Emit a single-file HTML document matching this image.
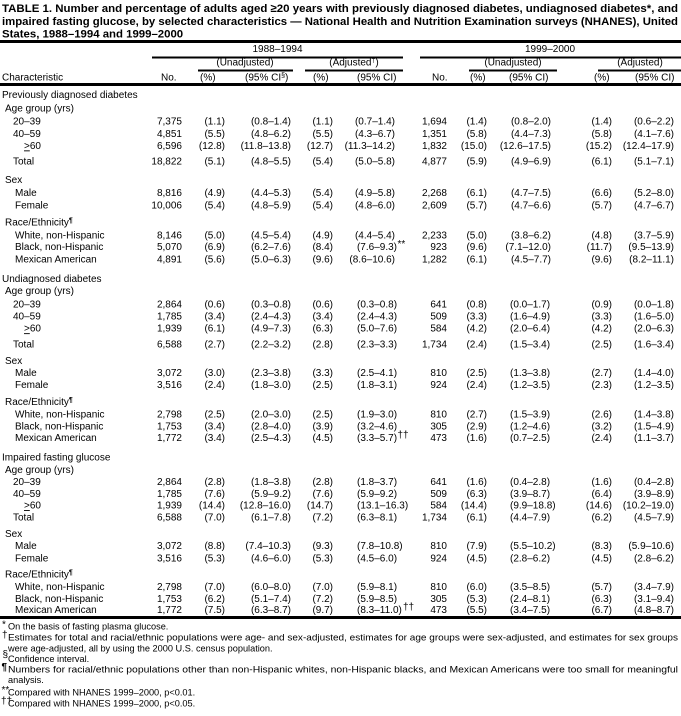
<!DOCTYPE html>
<html><head><meta charset="utf-8">
<style>
html,body{margin:0;padding:0;background:#fff;}
svg{display:block}
text{font-family:"Liberation Sans",Arial,sans-serif;font-size:10px;fill:#000}
.r{text-anchor:end}
.m{text-anchor:middle}
.t{font-size:11.4px;font-weight:bold}
.f{font-size:9.2px}
</style></head><body>
<svg width="681" height="716" viewBox="0 0 681 716">
<rect width="681" height="716" fill="#fff"/>
<!-- title -->
<text class="t" x="2" y="12" textLength="676" lengthAdjust="spacingAndGlyphs">TABLE 1. Number and percentage of adults aged ≥20 years with previously diagnosed diabetes, undiagnosed diabetes*, and</text>
<text class="t" x="2" y="25" textLength="676" lengthAdjust="spacingAndGlyphs">impaired fasting glucose, by selected characteristics — National Health and Nutrition Examination surveys (NHANES), United</text>
<text class="t" x="2" y="37.5">States, 1988–1994 and 1999–2000</text>
<!-- rules -->
<rect x="0" y="40" width="681" height="3" fill="#000"/>
<rect x="152" y="56.5" width="251" height="2" fill="#000"/>
<rect x="420" y="56.5" width="261" height="2" fill="#000"/>
<rect x="198" y="69.5" width="95" height="2" fill="#000"/>
<rect x="305" y="69.5" width="98" height="2" fill="#000"/>
<rect x="469" y="69.5" width="88" height="2" fill="#000"/>
<rect x="598" y="69.5" width="83" height="2" fill="#000"/>
<rect x="0" y="83" width="681" height="3" fill="#000"/>
<rect x="0" y="616" width="681" height="3" fill="#000"/>
<!-- headers -->
<text class="m" x="277.5" y="52">1988–1994</text>
<text class="m" x="550" y="52">1999–2000</text>
<text class="m" x="245" y="65.6">(Unadjusted)</text>
<text class="m" x="354" y="65.6">(Adjusted<tspan font-size="7" dy="-3">†</tspan><tspan dy="3">)</tspan></text>
<text class="m" x="513" y="65.6">(Unadjusted)</text>
<text class="m" x="640" y="65.6">(Adjusted)</text>
<g transform="translate(0,80.3)">
<text x="2">Characteristic</text>
<text x="161">No.</text>
<text x="200">(%)</text>
<text x="245">(95% CI<tspan font-size="7" dy="-3">§</tspan><tspan dy="3">)</tspan></text>
<text x="313">(%)</text>
<text x="357">(95% CI)</text>
<text x="432">No.</text>
<text x="470">(%)</text>
<text x="509">(95% CI)</text>
<text x="594">(%)</text>
<text x="635">(95% CI)</text>
</g>

<!-- Section 1 -->
<text x="2" y="98">Previously diagnosed diabetes</text>
<text x="5" y="111.4">Age group (yrs)</text>
<g transform="translate(0,124.6)"><text x="13">20–39</text><text class="r" x="182">7,375</text><text class="r" x="225">(1.1)</text><text class="r" x="291">(0.8–1.4)</text><text class="r" x="333">(1.1)</text><text class="r" x="395">(0.7–1.4)</text><text class="r" x="447">1,694</text><text class="r" x="487">(1.4)</text><text class="r" x="551">(0.8–2.0)</text><text class="r" x="612">(1.4)</text><text class="r" x="674">(0.6–2.2)</text></g>
<g transform="translate(0,137)"><text x="13">40–59</text><text class="r" x="182">4,851</text><text class="r" x="225">(5.5)</text><text class="r" x="291">(4.8–6.2)</text><text class="r" x="333">(5.5)</text><text class="r" x="395">(4.3–6.7)</text><text class="r" x="447">1,351</text><text class="r" x="487">(5.8)</text><text class="r" x="551">(4.4–7.3)</text><text class="r" x="612">(5.8)</text><text class="r" x="674">(4.1–7.6)</text></g>
<g transform="translate(0,148.9)"><text x="24">&gt;60</text><rect x="24" y="1.5" width="5.8" height="0.9" fill="#000"/><text class="r" x="182">6,596</text><text class="r" x="225">(12.8)</text><text class="r" x="291">(11.8–13.8)</text><text class="r" x="333">(12.7)</text><text class="r" x="395">(11.3–14.2)</text><text class="r" x="447">1,832</text><text class="r" x="487">(15.0)</text><text class="r" x="551">(12.6–17.5)</text><text class="r" x="612">(15.2)</text><text class="r" x="674">(12.4–17.9)</text></g>
<g transform="translate(0,164.7)"><text x="13">Total</text><text class="r" x="182">18,822</text><text class="r" x="225">(5.1)</text><text class="r" x="291">(4.8–5.5)</text><text class="r" x="333">(5.4)</text><text class="r" x="395">(5.0–5.8)</text><text class="r" x="447">4,877</text><text class="r" x="487">(5.9)</text><text class="r" x="551">(4.9–6.9)</text><text class="r" x="612">(6.1)</text><text class="r" x="674">(5.1–7.1)</text></g>
<text x="5" y="183.2">Sex</text>
<g transform="translate(0,196)"><text x="15">Male</text><text class="r" x="182">8,816</text><text class="r" x="225">(4.9)</text><text class="r" x="291">(4.4–5.3)</text><text class="r" x="333">(5.4)</text><text class="r" x="395">(4.9–5.8)</text><text class="r" x="447">2,268</text><text class="r" x="487">(6.1)</text><text class="r" x="551">(4.7–7.5)</text><text class="r" x="612">(6.6)</text><text class="r" x="674">(5.2–8.0)</text></g>
<g transform="translate(0,208.3)"><text x="15">Female</text><text class="r" x="182">10,006</text><text class="r" x="225">(5.4)</text><text class="r" x="291">(4.8–5.9)</text><text class="r" x="333">(5.4)</text><text class="r" x="395">(4.8–6.0)</text><text class="r" x="447">2,609</text><text class="r" x="487">(5.7)</text><text class="r" x="551">(4.7–6.6)</text><text class="r" x="612">(5.7)</text><text class="r" x="674">(4.7–6.7)</text></g>
<text x="5" y="225.5">Race/Ethnicity<tspan font-size="7" font-weight="bold" dy="-3">¶</tspan></text>
<g transform="translate(0,238.3)"><text x="15">White, non-Hispanic</text><text class="r" x="182">8,146</text><text class="r" x="225">(5.0)</text><text class="r" x="291">(4.5–5.4)</text><text class="r" x="333">(4.9)</text><text class="r" x="395">(4.4–5.4)</text><text class="r" x="447">2,233</text><text class="r" x="487">(5.0)</text><text class="r" x="551">(3.8–6.2)</text><text class="r" x="612">(4.8)</text><text class="r" x="674">(3.7–5.9)</text></g>
<g transform="translate(0,250.2)"><text x="15">Black, non-Hispanic</text><text class="r" x="182">5,070</text><text class="r" x="225">(6.9)</text><text class="r" x="291">(6.2–7.6)</text><text class="r" x="333">(8.4)</text><text class="r" x="397">(7.6–9.3)</text><text x="397.5" y="-3" font-size="7">**</text><text class="r" x="447">923</text><text class="r" x="487">(9.6)</text><text class="r" x="551">(7.1–12.0)</text><text class="r" x="612">(11.7)</text><text class="r" x="674">(9.5–13.9)</text></g>
<g transform="translate(0,262.5)"><text x="15">Mexican American</text><text class="r" x="182">4,891</text><text class="r" x="225">(5.6)</text><text class="r" x="291">(5.0–6.3)</text><text class="r" x="333">(9.6)</text><text class="r" x="395">(8.6–10.6)</text><text class="r" x="447">1,282</text><text class="r" x="487">(6.1)</text><text class="r" x="551">(4.5–7.7)</text><text class="r" x="612">(9.6)</text><text class="r" x="674">(8.2–11.1)</text></g>

<!-- Section 2 -->
<text x="2" y="281.9">Undiagnosed diabetes</text>
<text x="5" y="294.2">Age group (yrs)</text>
<g transform="translate(0,307.5)"><text x="13">20–39</text><text class="r" x="182">2,864</text><text class="r" x="225">(0.6)</text><text class="r" x="291">(0.3–0.8)</text><text class="r" x="333">(0.6)</text><text x="357">(0.3–0.8)</text><text class="r" x="447">641</text><text class="r" x="487">(0.8)</text><text x="510">(0.0–1.7)</text><text class="r" x="612">(0.9)</text><text class="r" x="674">(0.0–1.8)</text></g>
<g transform="translate(0,319.4)"><text x="13">40–59</text><text class="r" x="182">1,785</text><text class="r" x="225">(3.4)</text><text class="r" x="291">(2.4–4.3)</text><text class="r" x="333">(3.4)</text><text x="357">(2.4–4.3)</text><text class="r" x="447">509</text><text class="r" x="487">(3.3)</text><text x="510">(1.6–4.9)</text><text class="r" x="612">(3.3)</text><text class="r" x="674">(1.6–5.0)</text></g>
<g transform="translate(0,331.7)"><text x="24">&gt;60</text><rect x="24" y="1.5" width="5.8" height="0.9" fill="#000"/><text class="r" x="182">1,939</text><text class="r" x="225">(6.1)</text><text class="r" x="291">(4.9–7.3)</text><text class="r" x="333">(6.3)</text><text x="357">(5.0–7.6)</text><text class="r" x="447">584</text><text class="r" x="487">(4.2)</text><text x="510">(2.0–6.4)</text><text class="r" x="612">(4.2)</text><text class="r" x="674">(2.0–6.3)</text></g>
<g transform="translate(0,347.6)"><text x="13">Total</text><text class="r" x="182">6,588</text><text class="r" x="225">(2.7)</text><text class="r" x="291">(2.2–3.2)</text><text class="r" x="333">(2.8)</text><text x="357">(2.3–3.3)</text><text class="r" x="447">1,734</text><text class="r" x="487">(2.4)</text><text x="510">(1.5–3.4)</text><text class="r" x="612">(2.5)</text><text class="r" x="674">(1.6–3.4)</text></g>
<text x="5" y="364">Sex</text>
<g transform="translate(0,375.9)"><text x="15">Male</text><text class="r" x="182">3,072</text><text class="r" x="225">(3.0)</text><text class="r" x="291">(2.3–3.8)</text><text class="r" x="333">(3.3)</text><text x="357">(2.5–4.1)</text><text class="r" x="447">810</text><text class="r" x="487">(2.5)</text><text x="510">(1.3–3.8)</text><text class="r" x="612">(2.7)</text><text class="r" x="674">(1.4–4.0)</text></g>
<g transform="translate(0,388.2)"><text x="15">Female</text><text class="r" x="182">3,516</text><text class="r" x="225">(2.4)</text><text class="r" x="291">(1.8–3.0)</text><text class="r" x="333">(2.5)</text><text x="357">(1.8–3.1)</text><text class="r" x="447">924</text><text class="r" x="487">(2.4)</text><text x="510">(1.2–3.5)</text><text class="r" x="612">(2.3)</text><text class="r" x="674">(1.2–3.5)</text></g>
<text x="5" y="405">Race/Ethnicity<tspan font-size="7" font-weight="bold" dy="-3">¶</tspan></text>
<g transform="translate(0,417.3)"><text x="15">White, non-Hispanic</text><text class="r" x="182">2,798</text><text class="r" x="225">(2.5)</text><text class="r" x="291">(2.0–3.0)</text><text class="r" x="333">(2.5)</text><text x="357">(1.9–3.0)</text><text class="r" x="447">810</text><text class="r" x="487">(2.7)</text><text x="510">(1.5–3.9)</text><text class="r" x="612">(2.6)</text><text class="r" x="674">(1.4–3.8)</text></g>
<g transform="translate(0,429.5)"><text x="15">Black, non-Hispanic</text><text class="r" x="182">1,753</text><text class="r" x="225">(3.4)</text><text class="r" x="291">(2.8–4.0)</text><text class="r" x="333">(3.9)</text><text x="357">(3.2–4.6)</text><text class="r" x="447">305</text><text class="r" x="487">(2.9)</text><text x="510">(1.2–4.6)</text><text class="r" x="612">(3.2)</text><text class="r" x="674">(1.5–4.9)</text></g>
<g transform="translate(0,441.1)"><text x="15">Mexican American</text><text class="r" x="182">1,772</text><text class="r" x="225">(3.4)</text><text class="r" x="291">(2.5–4.3)</text><text class="r" x="333">(4.5)</text><text x="357">(3.3–5.7)</text><text x="397.5" y="-3" font-size="7">††</text><text class="r" x="447">473</text><text class="r" x="487">(1.6)</text><text x="510">(0.7–2.5)</text><text class="r" x="612">(2.4)</text><text class="r" x="674">(1.1–3.7)</text></g>

<!-- Section 3 -->
<text x="2" y="460.5">Impaired fasting glucose</text>
<text x="5" y="472.8">Age group (yrs)</text>
<g transform="translate(0,485.2)"><text x="13">20–39</text><text class="r" x="182">2,864</text><text class="r" x="225">(2.8)</text><text class="r" x="291">(1.8–3.8)</text><text class="r" x="333">(2.8)</text><text x="357">(1.8–3.7)</text><text class="r" x="447">641</text><text class="r" x="487">(1.6)</text><text x="510">(0.4–2.8)</text><text class="r" x="612">(1.6)</text><text class="r" x="674">(0.4–2.8)</text></g>
<g transform="translate(0,497.1)"><text x="13">40–59</text><text class="r" x="182">1,785</text><text class="r" x="225">(7.6)</text><text class="r" x="291">(5.9–9.2)</text><text class="r" x="333">(7.6)</text><text x="357">(5.9–9.2)</text><text class="r" x="447">509</text><text class="r" x="487">(6.3)</text><text x="510">(3.9–8.7)</text><text class="r" x="612">(6.4)</text><text class="r" x="674">(3.9–8.9)</text></g>
<g transform="translate(0,508.6)"><text x="24">&gt;60</text><rect x="24" y="1.5" width="5.8" height="0.9" fill="#000"/><text class="r" x="182">1,939</text><text class="r" x="225">(14.4)</text><text class="r" x="291">(12.8–16.0)</text><text class="r" x="333">(14.7)</text><text x="357">(13.1–16.3)</text><text class="r" x="447">584</text><text class="r" x="487">(14.4)</text><text x="510">(9.9–18.8)</text><text class="r" x="612">(14.6)</text><text class="r" x="674">(10.2–19.0)</text></g>
<g transform="translate(0,520.4)"><text x="13">Total</text><text class="r" x="182">6,588</text><text class="r" x="225">(7.0)</text><text class="r" x="291">(6.1–7.8)</text><text class="r" x="333">(7.2)</text><text x="357">(6.3–8.1)</text><text class="r" x="447">1,734</text><text class="r" x="487">(6.1)</text><text x="510">(4.4–7.9)</text><text class="r" x="612">(6.2)</text><text class="r" x="674">(4.5–7.9)</text></g>
<text x="5" y="537.1">Sex</text>
<g transform="translate(0,549)"><text x="15">Male</text><text class="r" x="182">3,072</text><text class="r" x="225">(8.8)</text><text class="r" x="291">(7.4–10.3)</text><text class="r" x="333">(9.3)</text><text x="357">(7.8–10.8)</text><text class="r" x="447">810</text><text class="r" x="487">(7.9)</text><text x="510">(5.5–10.2)</text><text class="r" x="612">(8.3)</text><text class="r" x="674">(5.9–10.6)</text></g>
<g transform="translate(0,561.4)"><text x="15">Female</text><text class="r" x="182">3,516</text><text class="r" x="225">(5.3)</text><text class="r" x="291">(4.6–6.0)</text><text class="r" x="333">(5.3)</text><text x="357">(4.5–6.0)</text><text class="r" x="447">924</text><text class="r" x="487">(4.5)</text><text x="510">(2.8–6.2)</text><text class="r" x="612">(4.5)</text><text class="r" x="674">(2.8–6.2)</text></g>
<text x="5" y="577.6">Race/Ethnicity<tspan font-size="7" font-weight="bold" dy="-3">¶</tspan></text>
<g transform="translate(0,590)"><text x="15">White, non-Hispanic</text><text class="r" x="182">2,798</text><text class="r" x="225">(7.0)</text><text class="r" x="291">(6.0–8.0)</text><text class="r" x="333">(7.0)</text><text x="357">(5.9–8.1)</text><text class="r" x="447">810</text><text class="r" x="487">(6.0)</text><text x="510">(3.5–8.5)</text><text class="r" x="612">(5.7)</text><text class="r" x="674">(3.4–7.9)</text></g>
<g transform="translate(0,601.9)"><text x="15">Black, non-Hispanic</text><text class="r" x="182">1,753</text><text class="r" x="225">(6.2)</text><text class="r" x="291">(5.1–7.4)</text><text class="r" x="333">(7.2)</text><text x="357">(5.9–8.5)</text><text class="r" x="447">305</text><text class="r" x="487">(5.3)</text><text x="510">(2.4–8.1)</text><text class="r" x="612">(6.3)</text><text class="r" x="674">(3.1–9.4)</text></g>
<g transform="translate(0,612.9)"><text x="15">Mexican American</text><text class="r" x="182">1,772</text><text class="r" x="225">(7.5)</text><text class="r" x="291">(6.3–8.7)</text><text class="r" x="333">(9.7)</text><text x="357">(8.3–11.0)</text><text x="403" y="-3" font-size="7">††</text><text class="r" x="447">473</text><text class="r" x="487">(5.5)</text><text x="510">(3.4–7.5)</text><text class="r" x="612">(6.7)</text><text class="r" x="674">(4.8–8.7)</text></g>

<!-- footnotes -->
<text x="2" y="627.5" font-size="8">*</text>
<text class="f" x="8" y="629.3">On the basis of fasting plasma glucose.</text>
<text x="2" y="638" font-size="10">†</text>
<text class="f" x="8" y="640.3" textLength="670" lengthAdjust="spacingAndGlyphs">Estimates for total and racial/ethnic populations were age- and sex-adjusted, estimates for age groups were sex-adjusted, and estimates for sex groups</text>
<text class="f" x="8" y="651.3">were age-adjusted, all by using the 2000 U.S. census population.</text>
<text x="2.5" y="657.5" font-size="8">§</text>
<text class="f" x="8" y="661.8">Confidence interval.</text>
<text x="1.5" y="670" font-size="9" font-weight="bold">¶</text>
<text class="f" x="8" y="672.3" textLength="670" lengthAdjust="spacingAndGlyphs">Numbers for racial/ethnic populations other than non-Hispanic whites, non-Hispanic blacks, and Mexican Americans were too small for meaningful</text>
<text class="f" x="8" y="682.8">analysis.</text>
<text x="1.5" y="693" font-size="8">**</text>
<text class="f" x="8" y="695.3">Compared with NHANES 1999–2000, p&lt;0.01.</text>
<text x="1" y="704" font-size="9">††</text>
<text class="f" x="8" y="706.3">Compared with NHANES 1999–2000, p&lt;0.05.</text>
</svg>
</body></html>
